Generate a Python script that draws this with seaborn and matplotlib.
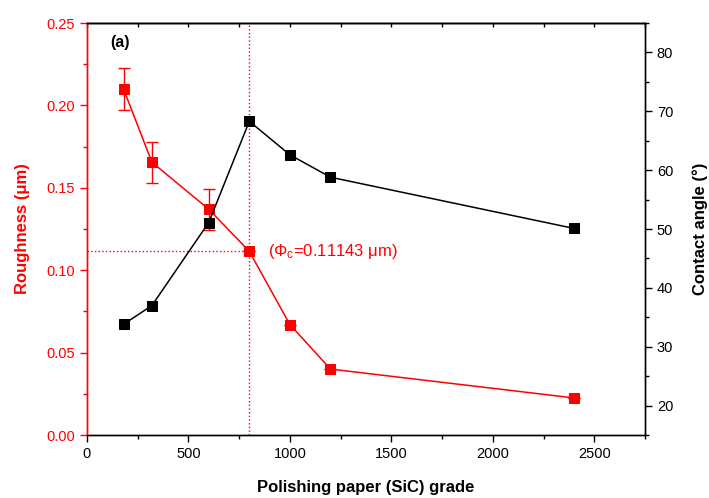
import numpy as np
import pandas as pd
import matplotlib
matplotlib.use('Agg')
import matplotlib.pyplot as plt
import seaborn as sns
from matplotlib.ticker import MultipleLocator

# data
grade = [180, 320, 600, 800, 1000, 1200, 2400]
roughness = [0.210, 0.1655, 0.137, 0.11143, 0.067, 0.040, 0.0225]
roughness_err = [0.0125, 0.0125, 0.0125, 0.0, 0.0, 0.0, 0.0]
contact_angle = [33.8, 37.0, 51.1, 68.3, 62.6, 58.8, 50.1]
phi_c = 0.11143
phi_grade = 800

RED = '#ff0000'

sns.set_theme(style='ticks')
plt.rcParams['font.family'] = ['Liberation Sans', 'DejaVu Sans']
plt.rcParams['axes.linewidth'] = 1.0
plt.rcParams['text.color'] = 'black'
plt.rcParams['axes.labelcolor'] = 'black'
plt.rcParams['xtick.color'] = 'black'
plt.rcParams['ytick.color'] = 'black'
plt.rcParams['axes.edgecolor'] = 'black'

df = pd.DataFrame({'grade': grade, 'roughness': roughness,
                   'err': roughness_err, 'angle': contact_angle})

fig = plt.figure(figsize=(7.09, 4.98), dpi=100)
ax = fig.add_axes([0.1227, 0.1265, 0.7870, 0.8273])
ax2 = ax.twinx()

# roughness (left axis)
ax.errorbar(df['grade'], df['roughness'], yerr=df['err'], fmt='none',
            ecolor=RED, elinewidth=1.0, capsize=4, capthick=1.0, zorder=2)
sns.lineplot(data=df, x='grade', y='roughness', ax=ax, color=RED, sort=False,
             marker='s', markersize=7, markeredgecolor=RED, linewidth=1.1,
             zorder=3)

# contact angle (right axis)
sns.lineplot(data=df, x='grade', y='angle', ax=ax2, color='black', sort=False,
             marker='s', markersize=7, markeredgecolor='black', linewidth=1.1,
             zorder=3)

# critical roughness guide lines
ax.axvline(phi_grade, color=RED, linestyle=':', linewidth=1.0, zorder=1)
ax.plot([0, phi_grade], [phi_c, phi_c], color=RED, linestyle=':',
        linewidth=1.0, zorder=1)
ax.text(890, phi_c, '(\u03a6$\\mathregular{_c}$=0.11143 \u03bcm)', color=RED,
        fontsize=12, va='center', ha='left')
ax.text(0.041, 0.953, '(a)', transform=ax.transAxes, fontsize=11.5,
        fontweight='bold', va='center', ha='left', color='black')

ax.set_xlim(0, 2750)
ax.set_ylim(0, 0.25)
ax2.set_ylim(15, 85)

ax.xaxis.set_major_locator(MultipleLocator(500))
ax.xaxis.set_minor_locator(MultipleLocator(250))
ax.yaxis.set_major_locator(MultipleLocator(0.05))
ax.yaxis.set_minor_locator(MultipleLocator(0.025))
ax.yaxis.set_major_formatter(matplotlib.ticker.FormatStrFormatter('%.2f'))
ax2.yaxis.set_minor_locator(MultipleLocator(5))
ax2.set_yticks([20, 30, 40, 50, 60, 70, 80])

ax.tick_params(axis='x', which='major', direction='out', length=5, width=1,
               labelsize=10.5, colors='black')
ax.tick_params(axis='x', which='minor', direction='out', length=3, width=1,
               colors='black')
ax.tick_params(axis='y', which='major', direction='out', length=5, width=1,
               labelsize=10.5, colors=RED)
ax.tick_params(axis='y', which='minor', direction='out', length=3, width=1,
               colors=RED)
ax2.tick_params(axis='y', which='major', direction='out', length=5, width=1,
                labelsize=10.5, colors='black')
ax2.tick_params(axis='y', which='minor', direction='out', length=3, width=1,
                colors='black')

# inward ticks along the top spine
top = ax.secondary_xaxis('top')
top.xaxis.set_major_locator(MultipleLocator(500))
top.xaxis.set_minor_locator(MultipleLocator(250))
top.tick_params(which='both', direction='in', length=3, width=1,
                labeltop=False, colors='black')

for side in ['top', 'right', 'bottom']:
    ax.spines[side].set_color('black')
ax.spines['left'].set_color(RED)
ax2.spines['left'].set_color(RED)
ax2.spines['right'].set_color('black')
for s in list(ax.spines.values()) + list(ax2.spines.values()):
    s.set_linewidth(1.0)

ax.set_xlabel('Polishing paper (SiC) grade', fontsize=12, fontweight='bold',
              color='black', labelpad=14)
ax.set_ylabel('Roughness (\u03bcm)', fontsize=12, fontweight='bold',
              color=RED, labelpad=12)
ax2.set_ylabel('Contact angle (\u00b0)', fontsize=12, fontweight='bold',
               color='black', labelpad=14)

fig.savefig('out.png', dpi=100)
plt.close(fig)
